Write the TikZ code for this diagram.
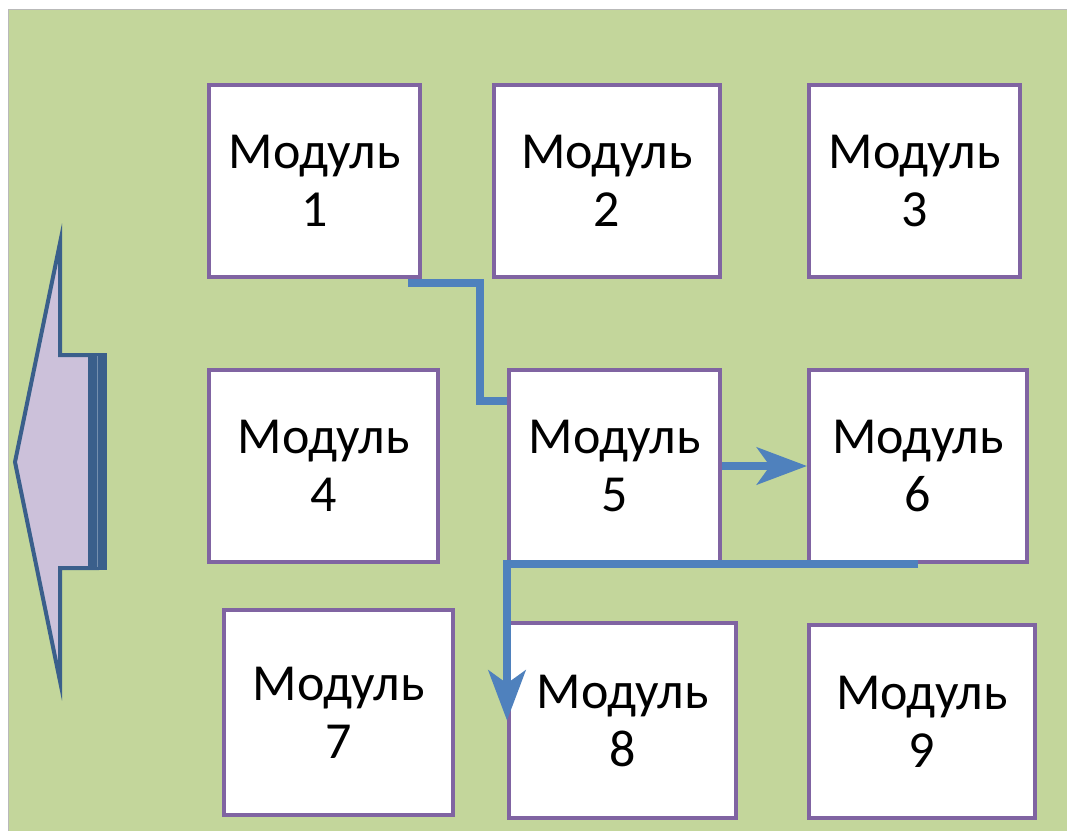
\documentclass[tikz,border=0pt]{standalone}
\usepackage{fontspec}
\setmainfont{Carlito}
\usetikzlibrary{arrows.meta}
\pgfdeclarelayer{bg}
\pgfsetlayers{bg,main}
\definecolor{bggreen}{HTML}{C3D69B}
\definecolor{boxpurple}{HTML}{8064A2}
\definecolor{conblue}{HTML}{4F81BD}
\definecolor{arrdark}{HTML}{3A5F8B}
\definecolor{lavender}{HTML}{CCC1DA}
\tikzset{
  modbox/.style={draw=boxpurple, line width=4pt, fill=white, inner sep=0pt,
    align=center, font=\fontsize{52}{58}\selectfont},
  conn/.style={draw=conblue, line width=8pt},
  tipped/.style={conn, -{Stealth[length=50pt, width=37pt, inset=13pt]}}
}
\begin{document}
\begin{tikzpicture}[x=1pt, y=-1pt]
\useasboundingbox (0,0) rectangle (1067,830);
\begin{pgfonlayer}{bg}
  \fill[white] (0,0) rectangle (1067,830);
  \path[fill=bggreen, draw=gray!55, line width=1pt] (8,9) rectangle (1075,840);
\end{pgfonlayer}

\node[modbox, minimum width=211pt, minimum height=192pt] (b1) at (314.5,181) {Модуль\\1};
\node[modbox, minimum width=226pt, minimum height=192pt] (b2) at (607,181) {Модуль\\2};
\node[modbox, minimum width=211pt, minimum height=192pt] (b3) at (914.5,181) {Модуль\\3};
\node[modbox, minimum width=229pt, minimum height=192pt] (b4) at (323.5,466) {Модуль\\4};
\node[modbox, minimum width=211pt, minimum height=192pt] (b5) at (614.5,466) {Модуль\\5};
\node[modbox, minimum width=218pt, minimum height=192pt] (b6) at (918,466) {Модуль\\6};
\node[modbox, minimum width=229pt, minimum height=205pt] (b7) at (338.5,712.5) {Модуль\\7};
\node[modbox, minimum width=227pt, minimum height=195pt] (b8) at (622.5,720.5) {Модуль\\8};
\node[modbox, minimum width=226pt, minimum height=193pt] (b9) at (922,721.5) {Модуль\\9};

% left big arrow
\path[fill=lavender, draw=arrdark, line width=4pt, line join=miter, miter limit=20]
  (15,462) -- (60,243) -- (60,355) -- (97,355) -- (97,568) -- (60,568) -- (60,681) -- cycle;
\fill[arrdark] (88,353) rectangle (107,570);
\draw[arrdark!70!white, line width=0.8pt] (97,356) -- (97,567);

% connector 1 -> 5 (tip hidden behind box 5)
\coordinate (c1s) at ([xshift=-14pt, yshift=-4pt]b1.south east);
\coordinate (k1) at (480,401);
\coordinate (c1e) at (558,401);
\begin{pgfonlayer}{bg}
  \draw[tipped, line join=miter] (c1s) -| (k1) -- (c1e);
\end{pgfonlayer}

% 5 -> 6
\draw[tipped] (b5.east) -- (b6.west);
% 6 -> 8
\draw[tipped, line join=miter] (b6.south) -| (b8.west);
\end{tikzpicture}
\end{document}
